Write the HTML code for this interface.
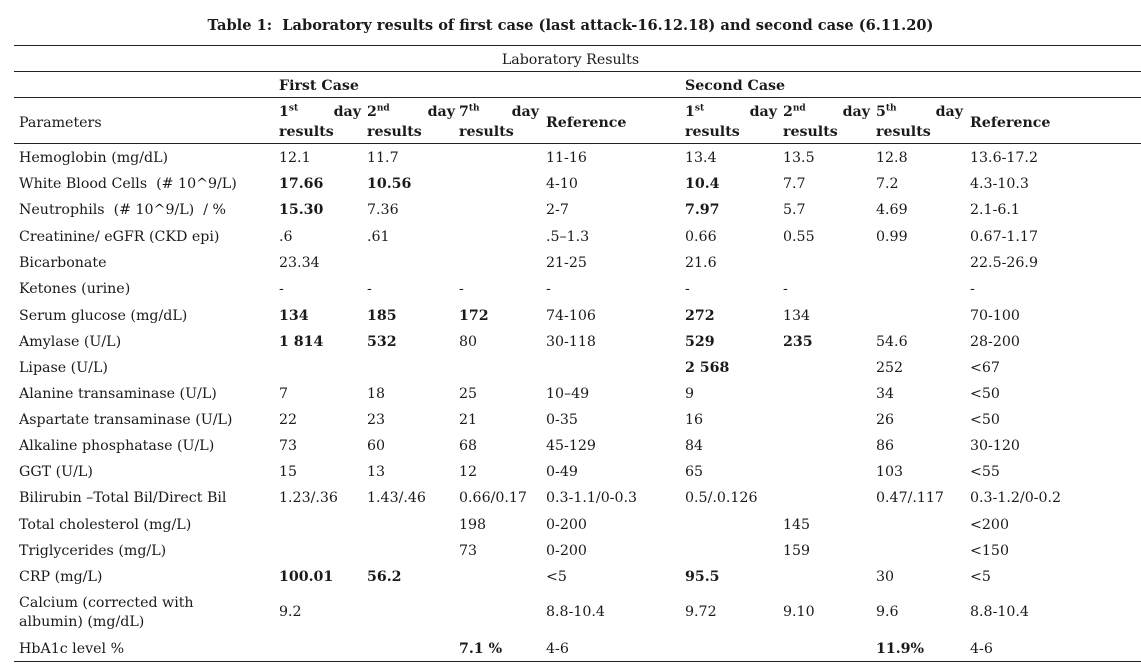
<!DOCTYPE html>
<html><head><meta charset="utf-8"><style>
body{margin:0;background:#fff;width:1141px;height:671px;position:relative;overflow:hidden;font-family:"DejaVu Serif","Liberation Serif",serif;color:#1a1a1a;font-size:14.2px}
.r{position:absolute;left:0;width:1141px;height:20px;line-height:20px;margin-top:1px}
.r span{position:absolute;white-space:nowrap;top:0}
.b{font-weight:bold}
.hl{position:absolute;left:14px;right:0;height:0;border-top:1.6px solid #222}
.t{position:absolute;top:17px;left:0;width:1141px;text-align:center;font-weight:bold;font-size:14.6px}
.hd{position:absolute;font-weight:bold;line-height:20px;margin-top:1px}
.hd .j{display:flex;justify-content:space-between}
sup{font-size:9px;line-height:0}
</style></head><body>
<div class="t">Table 1:&nbsp; Laboratory results of first case (last attack-16.12.18) and second case (6.11.20)</div>
<div class="hl" style="top:45px"></div>
<div class="r" style="top:49px"><span style="left:0;width:1141px;text-align:center">Laboratory Results</span></div>
<div class="hl" style="top:71px"></div>
<div class="r b" style="top:75px"><span style="left:279px">First Case</span><span style="left:685px">Second Case</span></div>
<div class="hl" style="top:97px"></div>
<div class="r" style="top:112px"><span style="left:19px">Parameters</span><span class="b" style="left:546px">Reference</span><span class="b" style="left:970px">Reference</span></div>
<div class="hd" style="left:279px;top:101px;width:82px"><div class="j"><span>1<sup>st</sup></span><span>day</span></div>results</div>
<div class="hd" style="left:367px;top:101px;width:88px"><div class="j"><span>2<sup>nd</sup></span><span>day</span></div>results</div>
<div class="hd" style="left:459px;top:101px;width:80px"><div class="j"><span>7<sup>th</sup></span><span>day</span></div>results</div>
<div class="hd" style="left:685px;top:101px;width:92px"><div class="j"><span>1<sup>st</sup></span><span>day</span></div>results</div>
<div class="hd" style="left:783px;top:101px;width:87px"><div class="j"><span>2<sup>nd</sup></span><span>day</span></div>results</div>
<div class="hd" style="left:876px;top:101px;width:87px"><div class="j"><span>5<sup>th</sup></span><span>day</span></div>results</div>
<div class="hl" style="top:143px"></div>

<div class="r" style="top:147px"><span style="left:19px">Hemoglobin (mg/dL)</span><span style="left:279px">12.1</span><span style="left:367px">11.7</span><span style="left:546px">11-16</span><span style="left:685px">13.4</span><span style="left:783px">13.5</span><span style="left:876px">12.8</span><span style="left:970px">13.6-17.2</span></div>
<div class="r" style="top:173px"><span style="left:19px">White Blood Cells&nbsp; (# 10^9/L)</span><span class="b" style="left:279px">17.66</span><span class="b" style="left:367px">10.56</span><span style="left:546px">4-10</span><span class="b" style="left:685px">10.4</span><span style="left:783px">7.7</span><span style="left:876px">7.2</span><span style="left:970px">4.3-10.3</span></div>
<div class="r" style="top:199px"><span style="left:19px">Neutrophils&nbsp; (# 10^9/L)&nbsp; / %</span><span class="b" style="left:279px">15.30</span><span style="left:367px">7.36</span><span style="left:546px">2-7</span><span class="b" style="left:685px">7.97</span><span style="left:783px">5.7</span><span style="left:876px">4.69</span><span style="left:970px">2.1-6.1</span></div>
<div class="r" style="top:226px"><span style="left:19px">Creatinine/ eGFR (CKD epi)</span><span style="left:279px">.6</span><span style="left:367px">.61</span><span style="left:546px">.5–1.3</span><span style="left:685px">0.66</span><span style="left:783px">0.55</span><span style="left:876px">0.99</span><span style="left:970px">0.67-1.17</span></div>
<div class="r" style="top:252px"><span style="left:19px">Bicarbonate</span><span style="left:279px">23.34</span><span style="left:546px">21-25</span><span style="left:685px">21.6</span><span style="left:970px">22.5-26.9</span></div>
<div class="r" style="top:278px"><span style="left:19px">Ketones (urine)</span><span style="left:279px">-</span><span style="left:367px">-</span><span style="left:459px">-</span><span style="left:546px">-</span><span style="left:685px">-</span><span style="left:783px">-</span><span style="left:970px">-</span></div>
<div class="r" style="top:305px"><span style="left:19px">Serum glucose (mg/dL)</span><span class="b" style="left:279px">134</span><span class="b" style="left:367px">185</span><span class="b" style="left:459px">172</span><span style="left:546px">74-106</span><span class="b" style="left:685px">272</span><span style="left:783px">134</span><span style="left:970px">70-100</span></div>
<div class="r" style="top:331px"><span style="left:19px">Amylase (U/L)</span><span class="b" style="left:279px">1 814</span><span class="b" style="left:367px">532</span><span style="left:459px">80</span><span style="left:546px">30-118</span><span class="b" style="left:685px">529</span><span class="b" style="left:783px">235</span><span style="left:876px">54.6</span><span style="left:970px">28-200</span></div>
<div class="r" style="top:357px"><span style="left:19px">Lipase (U/L)</span><span class="b" style="left:685px">2 568</span><span style="left:876px">252</span><span style="left:970px">&lt;67</span></div>
<div class="r" style="top:383px"><span style="left:19px">Alanine transaminase (U/L)</span><span style="left:279px">7</span><span style="left:367px">18</span><span style="left:459px">25</span><span style="left:546px">10–49</span><span style="left:685px">9</span><span style="left:876px">34</span><span style="left:970px">&lt;50</span></div>
<div class="r" style="top:409px"><span style="left:19px">Aspartate transaminase (U/L)</span><span style="left:279px">22</span><span style="left:367px">23</span><span style="left:459px">21</span><span style="left:546px">0-35</span><span style="left:685px">16</span><span style="left:876px">26</span><span style="left:970px">&lt;50</span></div>
<div class="r" style="top:435px"><span style="left:19px">Alkaline phosphatase (U/L)</span><span style="left:279px">73</span><span style="left:367px">60</span><span style="left:459px">68</span><span style="left:546px">45-129</span><span style="left:685px">84</span><span style="left:876px">86</span><span style="left:970px">30-120</span></div>
<div class="r" style="top:461px"><span style="left:19px">GGT (U/L)</span><span style="left:279px">15</span><span style="left:367px">13</span><span style="left:459px">12</span><span style="left:546px">0-49</span><span style="left:685px">65</span><span style="left:876px">103</span><span style="left:970px">&lt;55</span></div>
<div class="r" style="top:487px"><span style="left:19px">Bilirubin –Total Bil/Direct Bil</span><span style="left:279px">1.23/.36</span><span style="left:367px">1.43/.46</span><span style="left:459px">0.66/0.17</span><span style="left:546px">0.3-1.1/0-0.3</span><span style="left:685px">0.5/.0.126</span><span style="left:876px">0.47/.117</span><span style="left:970px">0.3-1.2/0-0.2</span></div>
<div class="r" style="top:514px"><span style="left:19px">Total cholesterol (mg/L)</span><span style="left:459px">198</span><span style="left:546px">0-200</span><span style="left:783px">145</span><span style="left:970px">&lt;200</span></div>
<div class="r" style="top:540px"><span style="left:19px">Triglycerides (mg/L)</span><span style="left:459px">73</span><span style="left:546px">0-200</span><span style="left:783px">159</span><span style="left:970px">&lt;150</span></div>
<div class="r" style="top:566px"><span style="left:19px">CRP (mg/L)</span><span class="b" style="left:279px">100.01</span><span class="b" style="left:367px">56.2</span><span style="left:546px">&lt;5</span><span class="b" style="left:685px">95.5</span><span style="left:876px">30</span><span style="left:970px">&lt;5</span></div>
<div class="r" style="top:592px"><span style="left:19px">Calcium (corrected with</span></div>
<div class="r" style="top:611px"><span style="left:19px">albumin) (mg/dL)</span></div>
<div class="r" style="top:601px"><span style="left:279px">9.2</span><span style="left:546px">8.8-10.4</span><span style="left:685px">9.72</span><span style="left:783px">9.10</span><span style="left:876px">9.6</span><span style="left:970px">8.8-10.4</span></div>
<div class="r" style="top:638px"><span style="left:19px">HbA1c level %</span><span class="b" style="left:459px">7.1 %</span><span style="left:546px">4-6</span><span class="b" style="left:876px">11.9%</span><span style="left:970px">4-6</span></div>
<div class="hl" style="top:661px"></div>
</body></html>
